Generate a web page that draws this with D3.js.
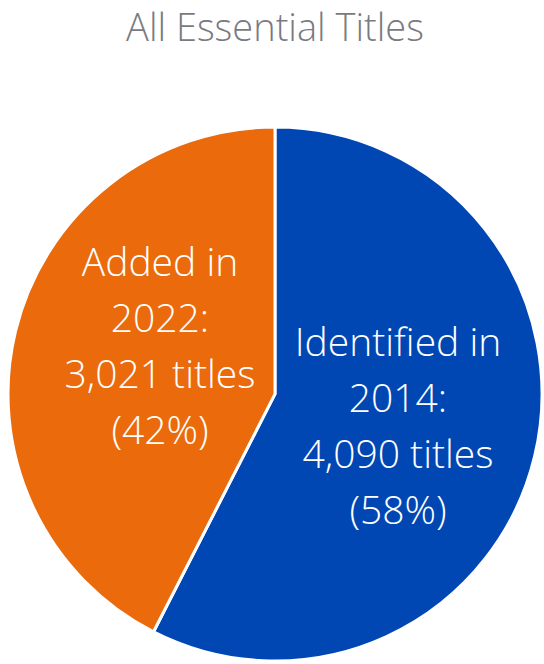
<!DOCTYPE html>
<html><head><meta charset="utf-8">
<script src="https://cdn.jsdelivr.net/npm/d3@7"></script>
<style>body{margin:0;background:#fff}svg{display:block}</style>
</head><body>
<script>
const categories = ["Identified in 2014", "Added in 2022"];
const values = [4090, 3021];
const labelLines = [["Identified in", "2014:", "4,090 titles", "(58%)"], ["Added in", "2022:", "3,021 titles", "(42%)"]];
const colors = ["#0047B4", "#EA6A0C"];
const title = "All Essential Titles";

const W = 544, H = 664, cx = 275, cy = 394, R = 267;
const svg = d3.select("body").append("svg").attr("width", W).attr("height", H);
const font = "'Open Sans', 'Segoe UI', sans-serif";

svg.append("text").attr("x", 275).attr("y", 41).attr("text-anchor", "middle")
  .attr("font-family", font).attr("font-weight", 300).attr("font-size", 38)
  .attr("fill", "#7a7a82").text(title);

const pie = d3.pie().sort(null).value(d => d)(values);
const arc = d3.arc().innerRadius(0).outerRadius(R);
const g = svg.append("g").attr("transform", `translate(${cx},${cy})`);
g.selectAll("path").data(pie).join("path").attr("d", arc)
  .attr("fill", (d, i) => colors[i]).attr("stroke", "#fff").attr("stroke-width", 3);

const labelPos = [[123, -38], [-115, -118]];
const lh = 56;
pie.forEach((d, i) => {
  const t = g.append("text").attr("text-anchor", "middle")
    .attr("font-family", font).attr("font-weight", 300).attr("font-size", 39).attr("fill", "#fff");
  labelLines[i].forEach((s, j) => {
    t.append("tspan").attr("x", labelPos[i][0]).attr("y", labelPos[i][1] + j * lh).text(s);
  });
});
</script>
</body></html>
